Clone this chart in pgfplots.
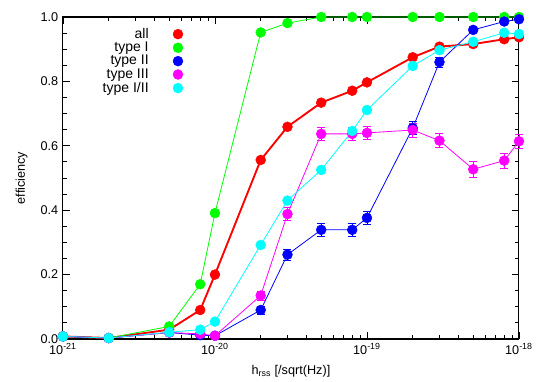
\documentclass[border=0pt]{standalone}
\usepackage{fontspec}
\setmainfont{Liberation Sans}
\usepackage{pgfplots}
\pgfplotsset{compat=1.18}
\definecolor{gpred}{HTML}{FF0000}
\definecolor{gpgreen}{HTML}{00FF00}
\definecolor{gpblue}{HTML}{0000FF}
\definecolor{gpmagenta}{HTML}{FF00FF}
\definecolor{gpcyan}{HTML}{00FFFF}

% x y err
\pgfplotstableread{
x y e
1e-21 0.008 0
2e-21 0.003 0
5e-21 0.029 0
8e-21 0.090 0
1e-20 0.200 0
2e-20 0.556 0
3e-20 0.659 0
5e-20 0.734 0
8e-20 0.771 0
1e-19 0.797 0
2e-19 0.875 0
3e-19 0.908 0
5e-19 0.916 0
8e-19 0.931 0
1e-18 0.937 0
}\allt
\pgfplotstableread{
x y e
1e-21 0.008 0
2e-21 0.003 0
5e-21 0.039 0
8e-21 0.170 0
1e-20 0.391 0
2e-20 0.952 0
3e-20 0.981 0
5e-20 1.000 0
8e-20 1.000 0
1e-19 1.000 0
2e-19 1.000 0
3e-19 1.000 0
5e-19 1.000 0
8e-19 1.000 0
1e-18 1.000 0
}\typeone
\pgfplotstableread{
x y e
1e-21 0.008 0.004
2e-21 0.003 0.003
5e-21 0.020 0.006
8e-21 0.012 0.005
1e-20 0.010 0.005
2e-20 0.090 0.012
3e-20 0.262 0.018
5e-20 0.339 0.019
8e-20 0.339 0.019
1e-19 0.376 0.020
2e-19 0.655 0.020
3e-19 0.860 0.015
5e-19 0.960 0.008
8e-19 0.986 0.005
1e-18 0.993 0.004
}\typetwo
\pgfplotstableread{
x y e
1e-21 0.008 0.004
2e-21 0.003 0.003
5e-21 0.020 0.006
8e-21 0.016 0.006
1e-20 0.010 0.005
2e-20 0.135 0.014
3e-20 0.388 0.020
5e-20 0.637 0.020
8e-20 0.637 0.020
1e-19 0.640 0.020
2e-19 0.649 0.021
3e-19 0.616 0.022
5e-19 0.527 0.024
8e-19 0.554 0.023
1e-18 0.614 0.022
}\typethree
\pgfplotstableread{
x y e
1e-21 0.008 0
2e-21 0.003 0
5e-21 0.021 0
8e-21 0.029 0
1e-20 0.054 0
2e-20 0.292 0
3e-20 0.430 0
5e-20 0.525 0
8e-20 0.646 0
1e-19 0.711 0
2e-19 0.848 0
3e-19 0.897 0
5e-19 0.923 0
8e-19 0.951 0
1e-18 0.947 0
}\typeonetwo

\begin{document}
\begin{tikzpicture}
\begin{axis}[
  xmode=log, scale only axis, width=342pt, height=241.5pt,
  xmin=1e-21, xmax=1e-18, ymin=0, ymax=1,
  xtick={1e-21,1e-20,1e-19,1e-18},
  xticklabels={10\textsuperscript{-21},10\textsuperscript{-20},10\textsuperscript{-19},10\textsuperscript{-18}},
  ytick={0,0.2,0.4,0.6,0.8,1},
  yticklabels={0.0,0.2,0.4,0.6,0.8,1.0},
  minor y tick num=3,
  major tick length=5pt, minor tick length=3pt,
  tick style={black, line width=0.6pt},
  axis line style={line width=0.8pt},
  font=\fontsize{9.5}{11}\selectfont,
  xlabel={h\textsubscript{rss} [/sqrt(Hz)]},
  ylabel={efficiency},
  xlabel shift=1pt, ylabel shift=3pt,
  clip=false,
  legend plot pos=right,
  legend cell align=right,
  legend style={draw=none, fill=none, at={(0.285,0.983)}, anchor=north east,
    row sep=-2.7pt, column sep=0pt, font=\fontsize{10.5}{12}\selectfont},
  legend image code/.code={\path[draw=none, fill=none] (0pt,0pt) -- (28pt,0pt);
    \draw[#1, only marks] plot coordinates {(20pt,0pt)};},
  every axis plot/.append style={mark=*, mark size=3.7pt},
  error bars/y dir=both, error bars/y explicit,
  error bars/error mark options={rotate=90, mark size=3pt},
]
\addplot[gpred, line width=1.4pt, mark options={solid, line width=0.4pt}] table[x=x, y=y] {\allt};
\addlegendentry{all}
\addplot[gpgreen, line width=0.6pt, mark options={line width=0.4pt}] table[x=x, y=y] {\typeone};
\addlegendentry{type I}
\addplot[gpblue, line width=0.6pt, mark options={line width=0.4pt}] table[x=x, y=y, y error=e] {\typetwo};
\addlegendentry{type II}
\addplot[gpmagenta, line width=0.6pt, mark options={line width=0.4pt}] table[x=x, y=y, y error=e] {\typethree};
\addlegendentry{type III}
\addplot[gpcyan, line width=0.6pt, mark options={line width=0.4pt}] table[x=x, y=y] {\typeonetwo};
\addlegendentry{type I/II}
\end{axis}
\pgfresetboundingbox
\path ([shift={(-47.25pt,-32.25pt)}]current axis.south west) rectangle ([shift={(19.5pt,12.75pt)}]current axis.north east);
\end{tikzpicture}
\end{document}
